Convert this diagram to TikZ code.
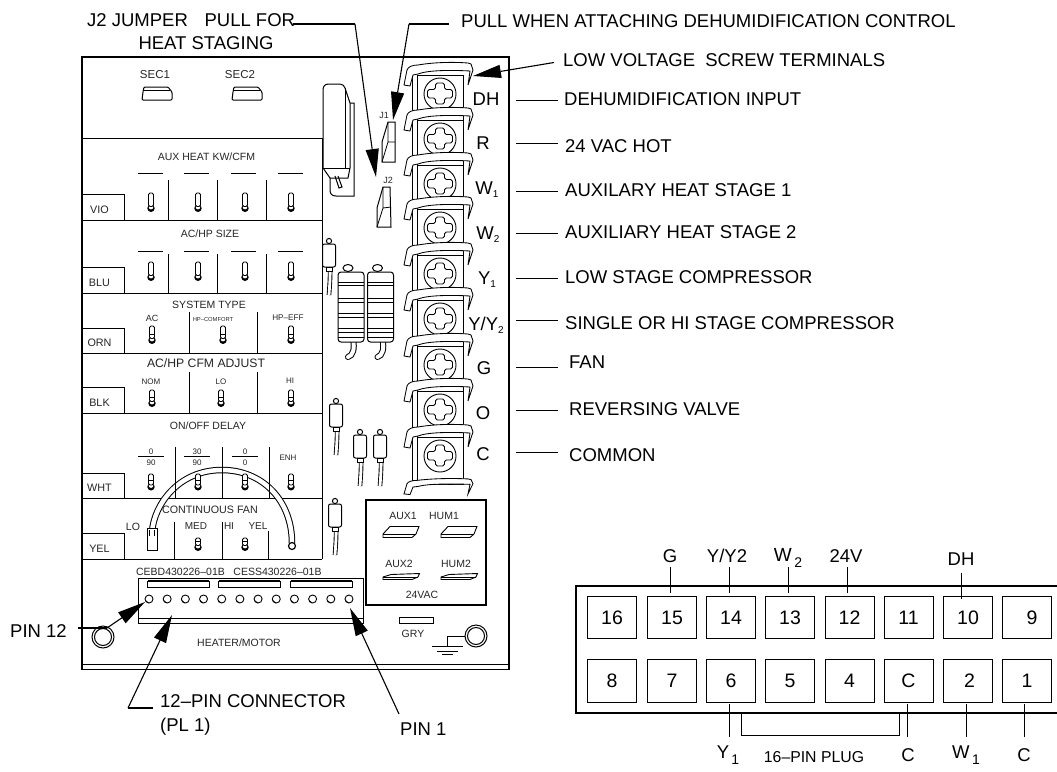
\documentclass[tikz,border=0pt]{standalone}
\usepackage{fontspec}
\setmainfont{Liberation Sans}
\usetikzlibrary{arrows.meta,calc}
\newcommand\sz[1]{\fontsize{#1}{#1}\selectfont}
\newcommand\sbs[2]{\raisebox{#1}{\sz{#2}1}}
\newcommand\sbt[2]{\raisebox{#1}{\sz{#2}2}}
\tikzset{
  ln/.style={line width=1pt,black},
  thin1/.style={line width=.8pt,black},
  big/.style={inner sep=0,font=\sz{18.5},text=black},
  bigl/.style={big,anchor=west},
  lab/.style={inner sep=0,font=\sz{10.5},text=black!85},
  tab/.style={inner sep=0,font=\sz{10.8},text=black!85},
  cell/.style={draw,line width=1pt,minimum width=49pt,minimum height=42.5pt,inner sep=0,font=\sz{19.5}},
  bigtip/.style={-{Triangle[length=28,width=13]}},
}
% pin: x, bottom y, height, cross line yes (1) / no (0)
\newcommand\pinh[4]{%
  \fill[black] (#1,#2-2.7) circle[radius=3.7];
  \fill[white] (#1,#2-3.8) circle[radius=2.2];
  \draw[line width=.9pt,fill=white,rounded corners=1.5pt] (#1-2.5,#2-4.5) -- (#1-2.5,#2-#3) -- (#1+2.5,#2-#3) -- (#1+2.5,#2-4.5) -- cycle;
  \ifnum#4=1 \draw[line width=.8pt] (#1-2.5,#2-9) -- (#1+2.5,#2-9);\fi
}
\newcommand\res[2]{%
  \draw[line width=4.6pt] (#1+1,#2+24) .. controls (#1+1.5,#2+36) and (#1+.5,#2+46) .. (#1,#2+54);
  \draw[line width=2.8pt,white] (#1+1,#2+24) .. controls (#1+1.5,#2+36) and (#1+.5,#2+46) .. (#1,#2+54);
  \draw[ln] (#1,#2) circle[radius=2.6];
  \draw[ln,fill=white,rounded corners=2pt] (#1-6.5,#2+3) rectangle (#1+6.5,#2+26);
  \draw[ln,fill=white] (#1-3,#2+26) rectangle (#1+3,#2+30);
}
\newcommand\cyl[2]{%
  \draw[line width=6pt,line cap=round] (#1+2,#2+68) .. controls (#1+4,#2+76) and (#1+2,#2+84) .. (#1-3,#2+85);
  \draw[line width=4pt,white,line cap=round] (#1+2,#2+68) .. controls (#1+4,#2+76) and (#1+2,#2+84) .. (#1-3,#2+85);
  \draw[ln] (#1-3,#2-4) ellipse[x radius=5,y radius=3.5];
  \draw[ln,fill=white,rounded corners=3pt] (#1-13,#2) rectangle (#1+13,#2+70);
  \foreach \yy in {10,13,26,30,41,45,56,60,65} {\draw[line width=.8pt] (#1-13,#2+\yy) -- (#1+13,#2+\yy);}
}
\newcommand\hoodpath{%
  \draw[line width=.85pt,fill=white] (-36,-9) -- (-33,-24) .. controls (-32,-27) and (-28,-29) .. (-22,-29)
     .. controls (-5,-32) and (15,-32) .. (28,-31) -- (31,-30) -- (33,-24) -- (28,-9) -- (30,-23)
     .. controls (12,-24) and (-12,-24) .. (-22,-20) -- (-27,-19) -- (-30,-8) -- cycle;
}
\newcommand\term[2]{%
  \begin{scope}[shift={(440,#1)}]
  \draw[line width=.9pt,fill=white] (-23,-19) rectangle (23,#2);
  \draw[line width=.9pt] (-28,-19) -- (-28,#2);
  \draw[line width=.9pt] (0,0) circle[radius=16];
  \draw[line width=.9pt,rounded corners=1.8pt] (-4.5,-11) -- (4.5,-11) -- (4.5,-4.5) -- (12.5,-4.5) -- (12.5,4) -- (4.5,4) -- (4.5,10) -- (-4.5,10) -- (-4.5,4) -- (-12.5,4) -- (-12.5,-4.5) -- (-4.5,-4.5) -- cycle;
  \end{scope}
}
\begin{document}
\begin{tikzpicture}[x=1pt,y=-1pt]
\useasboundingbox (0,0) rectangle (1057,771);
\fill[white] (0,0) rectangle (1057,771);
% board
\draw[line width=1.2pt] (82,57) rectangle (509,669.5);
\draw[ln] (82,664) -- (509,664);
% panels
\draw[ln] (82,138) -- (322,138) (82,220) -- (322,220) (82,293) -- (322,293) (82,353) -- (322,353)
 (82,413) -- (322,413) (82,498) -- (322,498) (82,559) -- (322,559) (322,138) -- (322,559);
\foreach \a/\b/\t in {194/220/VIO,267/293/BLU,328/353/ORN,387/413/BLK,473/498/WHT,533/559/YEL}{
  \draw[ln] (82,\a) -- (124,\a) -- (124,\b);
  \node[tab] at (99.5,\b-10.5) {\t};
}
% SEC
\foreach \x/\lx/\t in {142/155/SEC1,232/240/SEC2}{
  \node[lab,font=\sz{11.5}] at (\lx,75) {\t};
  \draw[ln,fill=white,rounded corners=1pt] (\x+2,87) -- (\x+26,87) -- (\x+30,92) -- (\x+30,100) -- (\x,100) -- (\x+1,92) -- cycle;
  \draw[thin1] (\x+1,90.5) -- (\x+28,90.5);
}
% row 1,2
\node[lab] at (206.5,156.5) {AUX HEAT KW/CFM};
\node[lab] at (210,233.5) {AC/HP SIZE};
\foreach \yt/\yb/\yd/\yp in {180/220/173/211,254/293/251/280}{
  \foreach \x in {168,217,266} {\draw[ln] (\x,\yt) -- (\x,\yb);}
  \foreach \x in {138,184,231,278} {\draw[ln] (\x,\yd) -- (\x+25,\yd);}
  \foreach \x in {151,198,245,291} {\pinh{\x}{\yp}{18}{0}}
}
% row 3
\node[lab,font=\sz{10.5}] at (209,305) {SYSTEM TYPE};
\draw[ln] (189,312) -- (189,353) (257,312) -- (257,353);
\node[lab,font=\sz{9}] at (152,318) {AC};
\node[lab,font=\sz{5.8}] at (213,319) {HP--COMFORT};
\node[lab,font=\sz{8.2}] at (288,318) {HP--EFF};
\foreach \x in {152,223,291} {\pinh{\x}{343}{17}{1}}
% row 4
\node[lab,font=\sz{12.2}] at (206,363) {AC/HP CFM ADJUST};
\draw[ln] (189,372) -- (189,413) (257,372) -- (257,413);
\node[lab,font=\sz{8}] at (151,382) {NOM};
\node[lab,font=\sz{8}] at (221,382) {LO};
\node[lab,font=\sz{8}] at (290,381) {HI};
\foreach \x in {152,221,291} {\pinh{\x}{406}{16}{1}}
% arc jumper
\draw[line width=6.5pt,black] (152,532) .. controls (154,505) and (178,470) .. (222,470) .. controls (262,470) and (292,500) .. (292,543);
\draw[line width=4.5pt,white] (152,532) .. controls (154,505) and (178,470) .. (222,470) .. controls (262,470) and (292,500) .. (292,543);
% row 5
\node[lab,font=\sz{10.5}] at (208,426) {ON/OFF DELAY};
\foreach \x in {175,222,269} {\draw[ln] (\x,447) -- (\x,498);}
\foreach \x/\n/\d in {151/0/90,197/30/90,245/0/0}{
  \draw[thin1] (\x-13,456.5) -- (\x+13,456.5);
  \node[lab,font=\sz{8}] at (\x,451.5) {\n};
  \node[lab,font=\sz{8}] at (\x,462.5) {\d};
}
\node[lab,font=\sz{8}] at (288,458) {ENH};
\foreach \x in {151,198,245,291} {\pinh{\x}{489.5}{15.5}{1}}
% row 6
\node[lab,font=\sz{10.7}] at (210,510) {CONTINUOUS FAN};
\node[lab,font=\sz{10.5}] at (133,527) {LO};
\node[lab,font=\sz{10}] at (196,526) {MED};
\node[lab,font=\sz{10}] at (229,526) {HI};
\node[lab,font=\sz{10}] at (258,526) {YEL};
\draw[ln] (174,522) -- (174,559) (222,522) -- (222,559) (268,531) -- (268,559);
\draw[ln,fill=white] (147,528) rectangle (157,550);
\draw[line width=6.5pt] (152,536) -- (152,530);
\draw[line width=4.5pt,white] (152,537) -- (152,530);
\foreach \x in {198,245} {\pinh{\x}{550}{12}{1}}
\draw[line width=1.2pt,fill=white] (292,546) circle[radius=3.5];
% connector
\draw[ln] (138,618) -- (138,578) -- (363,578) -- (363,623) -- (138,623) -- (138,618) -- (363,618);
\foreach \x in {147,218,290}{
  \draw[ln,fill=white] (\x,581) rectangle (\x+62,587);
  \draw[line width=.7pt] (\x+1,580) -- (\x+62,580);
}
\foreach \i in {0,...,11}{
  \draw[line width=.9pt] (149+\i*18.18,599) circle[radius=4];
  \draw[line width=.8pt] (149+\i*18.18-3.6,600.5) .. controls (149+\i*18.18-2,602) .. (149+\i*18.18-.5,603);
}
\node[lab] at (180.5,572) {CEBD430226--01B};
\node[lab] at (277.5,572) {CESS430226--01B};
\node[lab,font=\sz{10.5}] at (239,643) {HEATER/MOTOR};
\draw[line width=1pt] (103,637) circle[radius=11] (103,637) circle[radius=8.5];
% aux box
\draw[line width=1.1pt] (366,500) rectangle (486,605);
\node[lab,font=\sz{10.5}] at (403,516) {AUX1};
\node[lab,font=\sz{10.5}] at (444,516) {HUM1};
\node[lab,font=\sz{10.5}] at (399,564) {AUX2};
\node[lab,font=\sz{10.5}] at (456,564) {HUM2};
\node[lab,font=\sz{10.5}] at (422,595) {24VAC};
\foreach \d in {0,58}{
  \draw[line width=.9pt] (383+\d,534) -- (390+\d,526.5) -- (419+\d,526.5) -- (416+\d,534) -- (412+\d,537.5) -- (383+\d,537.5) -- cycle;
  \draw[thin1] (383+\d,534) -- (416+\d,534);
  \draw[line width=.9pt] (383+\d,577) -- (391+\d,574.5) -- (419.5+\d,573.5) -- (418+\d,577) -- (412+\d,579.5) -- (383+\d,579.5) -- cycle;
  \draw[thin1] (383+\d,577) -- (418+\d,577);
}
% GRY / ground
\draw[ln] (399,617) rectangle (433,623);
\node[lab,font=\sz{10.5}] at (413,634) {GRY};
\draw[line width=1pt] (476,636) circle[radius=11] (476,636) circle[radius=8.5];
\coordinate (g1) at (465,636);
\coordinate (g2) at (447.5,646);
\draw[ln] (g1) -| (g2);
\draw[ln] (432,646) -- (463,646) (437,651) -- (458,651) (442,654.5) -- (453,654.5);
% relay
\draw[ln,fill=white] (350,103) -- (354,103) -- (354,196) -- (336,196) .. controls (332,196) and (330,194) .. (330,190) -- (330,178);
\draw[ln,fill=white] (323,168) -- (323,90) .. controls (323,86) and (325,84) .. (329,84) -- (340,84) .. controls (343,84) and (344,86) .. (345,88) -- (350,103) -- (350,168) -- (348,178) -- (330,178) -- cycle;
\draw[ln] (345,88) -- (345,168) (323,168) -- (350,168);
\draw[ln] (335,176) -- (339,188) -- (342,187) -- (338,176);
% comps
\res{329}{241}
\res{336}{401}
\res{360}{432}
\res{380}{432}
\res{335}{501}
\cyl{351}{272}
\cyl{380.5}{272}
% J1, J2
\node[lab,font=\sz{9}] at (384,115) {J1};
\draw[ln,fill=white] (388,122) -- (395,122) -- (395,162) -- (382,162) -- (382,142) -- cycle;
\draw[thin1] (388,122) -- (388,142) -- (382,162) (388,142) -- (395,142);
\node[lab,font=\sz{9}] at (388,180) {J2};
\draw[ln,fill=white] (383,187) -- (390,187) -- (391,227) -- (377,227) -- (377,208) -- cycle;
\draw[thin1] (383,187) -- (383,208) -- (377,227) (383,208) -- (391,207);
% terminals
\foreach \y/\b in {94/27,139/27,184/27,228/27,274/27,319/27,365/27,410/27,456/28}{\term{\y}{\b}}
\foreach \y in {94,139,184,228,274,319,365,410,456}{\begin{scope}[shift={(440,\y)}]\hoodpath\end{scope}}
\begin{scope}[shift={(440,500)},yscale=.68]\hoodpath\end{scope}
% terminal letters
\node[big] (lDH) at (486,99) {DH};
\node[big] (lR) at (483,143) {R};
\node[big] (lW1) at (487,190) {W\sbs{-3pt}{10}};
\node[big] (lW2) at (488,235) {W\sbt{-3pt}{10}};
\node[big] (lY1) at (487,280) {Y\sbs{-3pt}{10}};
\node[big] (lYY) at (486,325) {Y/Y\sbt{-3pt}{10}};
\node[big] (lG) at (484,368) {G};
\node[big] (lO) at (483,413) {O};
\node[big] (lC) at (483,454) {C};
% right labels and leaders
\foreach \n/\yl/\xl/\yt/\t in {a/100.5/564/99/DEHUMIDIFICATION INPUT,b/143/565/146/24 VAC HOT,c/191/565/190.5/AUXILARY HEAT STAGE 1,d/233/565/232.5/AUXILIARY HEAT STAGE 2,e/278/565/277/LOW STAGE COMPRESSOR,f/320/565/323/SINGLE OR HI STAGE COMPRESSOR,g/367/569/362.5/FAN,h/410/569/409/REVERSING VALVE,i/452/569/455/COMMON}{
  \node[bigl] (t\n) at (\xl,\yt) {\t};
  \coordinate (s\n) at (515.5,\yl);
  \coordinate (e\n) at (558,\yl);
  \draw[ln] (s\n) -- (e\n);
}
% top labels
\node[bigl] (tJ) at (87,20) {J2 JUMPER\hspace{.9em}PULL FOR};
\node[big] (tH) at (206,43) {HEAT STAGING};
\node[bigl] (tP) at (461,21) {PULL WHEN ATTACHING DEHUMIDIFICATION CONTROL};
\node[bigl] (tL) at (563,60) {LOW VOLTAGE\hspace{.55em}SCREW TERMINALS};
\coordinate (j0) at (293,24); \coordinate (j1) at (355,24); \coordinate (j2) at (376,177);
\draw[line width=1.1pt] (j0) -- (j1);
\draw[line width=1.1pt,bigtip] (j1) -- (j2);
\coordinate (p0) at (449,24); \coordinate (p1) at (409,24); \coordinate (p2) at (393,120);
\draw[line width=1.1pt] (p0) -- (p1);
\draw[line width=1.1pt,bigtip] (p1) -- (p2);
\coordinate (l0) at (554,62.5); \coordinate (l1) at (473,76);
\draw[line width=1.1pt,bigtip] (l0) -- (l1);
% bottom left labels
\node[big,anchor=west] (t12) at (10,631) {PIN 12};
\coordinate (a0) at (78,628); \coordinate (a1) at (107,628); \coordinate (a2) at (145,602);
\draw[line width=1.1pt] (a0) -- (a1);
\draw[line width=1.1pt,bigtip] (a1) -- (a2);
\node[bigl] (tC) at (160,701) {12--PIN CONNECTOR};
\node[bigl] (tPL) at (160,727) {(PL 1)};
\coordinate (b0) at (153,708); \coordinate (b1) at (128,708); \coordinate (b2) at (172,615);
\draw[line width=1.1pt] (b0) -- (b1);
\draw[line width=1.1pt,bigtip] (b1) -- (b2);
\node[bigl] (tP1) at (400,729) {PIN 1};
\coordinate (c0) at (399,714); \coordinate (c1) at (350,608);
\draw[line width=1.1pt,bigtip] (c0) -- (c1);
% plug
\draw[line width=1.1pt] (1057,586) -- (576,586) -- (576,713) -- (1057,713);
\foreach \n/\x/\t in {16/612/16,15/672/15,14/731/14,13/790/13,12/849.5/12,11/908.5/11,10/968/10,9/1027/\hspace{10pt}9}{
  \node[cell] (p\n) at (\x,617.5) {\t};
}
\foreach \n/\x/\t in {8/612/8,7/672/7,6/731/6,5/790/5,4/849.5/4,3/908.5/C,2/968/\hspace{3pt}2,1/1027/1}{
  \node[cell] (q\n) at (\x,681) {\t};
}
\foreach \x/\n/\y/\t in {670/a/556/G,846/d/556/24V,961/e/559/DH}{
  \node[big] (u\n) at (\x,\y) {\t};
}
\node[big] (ub) at (727,556) {Y/Y2};
\node[big,font=\sz{19}] (uc) at (788,558) {W\raisebox{-6pt}{\sz{14}\,2}};
\draw[ln] (670,567) -- (670,593);
\draw[ln] (729,567) -- (729,593);
\draw[ln] (788,567) -- (788,593);
\draw[ln] (847,567) -- (847,593);
\draw[ln] (961,573) -- (961,599);
\draw[ln] (729,704) -- (729,737);
\draw[ln] (907,704) -- (907,737);
\draw[ln] (966,704) -- (966,737);
\draw[ln] (1024,704) -- (1024,737);
\draw[ln] (741,713) -- (741,735) -- (899,735) -- (899,713);
\node[big] (v1) at (728,755) {Y\raisebox{-6pt}{\sz{14}\,1}};
\node[inner sep=0,font=\sz{15.8}] (v2) at (814,757) {16--PIN PLUG};
\node[big] (v3) at (908,755) {C};
\node[big] (v4) at (966,755) {W\raisebox{-6pt}{\sz{14}\,1}};
\node[big] (v5) at (1024,755) {C};
\end{tikzpicture}
\end{document}
